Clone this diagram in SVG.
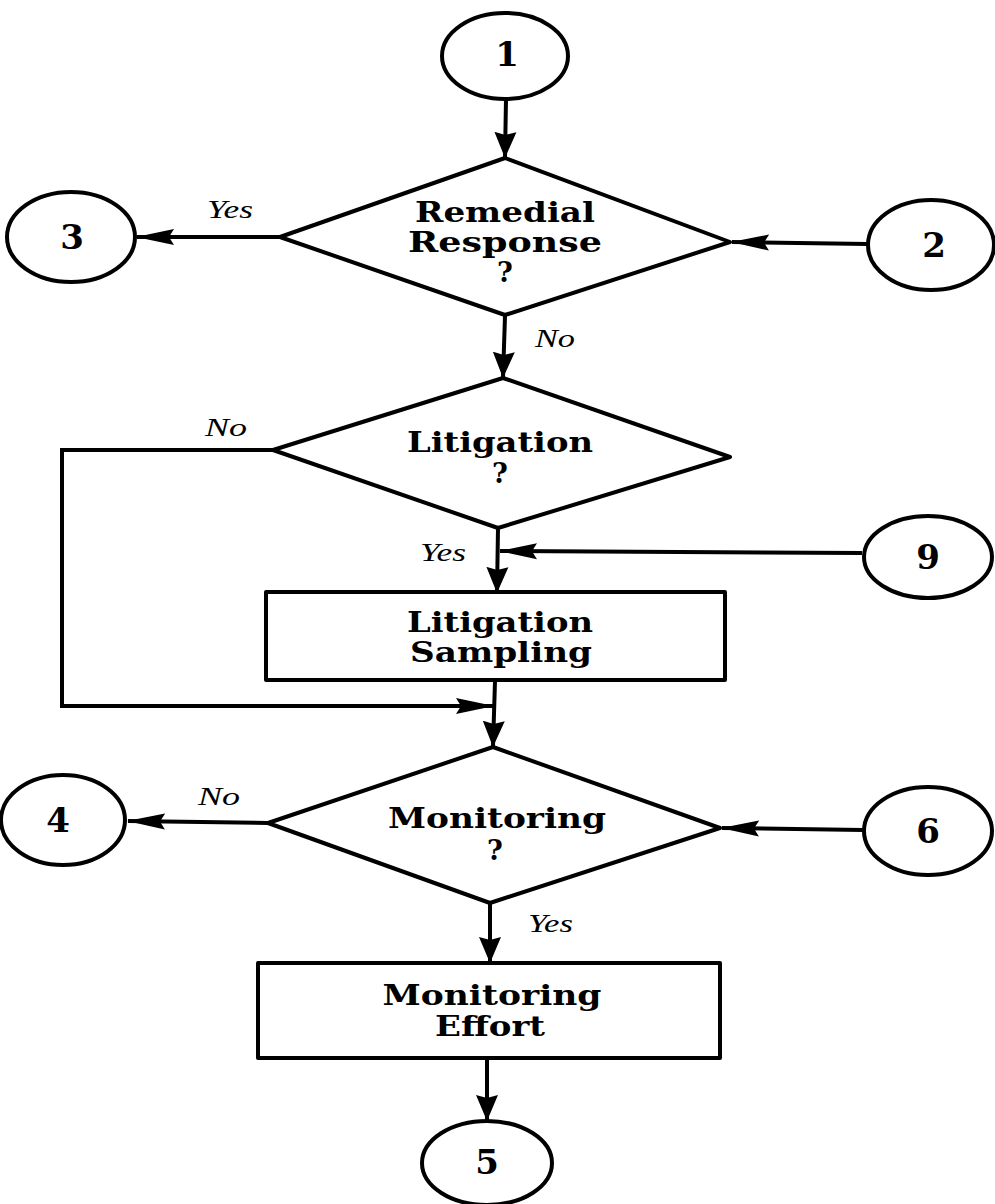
<svg xmlns="http://www.w3.org/2000/svg" width="995" height="1204" viewBox="0 0 995 1204">
  <style>
    .shape { fill: #fff; stroke: #000; stroke-width: 4; stroke-linejoin: round; }
    .edge { fill: none; stroke: #000; stroke-width: 4; }
    .lbl { font-family: "DejaVu Serif", "Liberation Serif", serif; font-weight: bold; font-size: 27px; fill: #000; text-anchor: middle; }
    .num { font-family: "DejaVu Serif", "Liberation Serif", serif; font-weight: bold; font-size: 34px; fill: #000; text-anchor: middle; }
    .ans { font-family: "Liberation Serif", serif; font-style: italic; font-size: 26px; fill: #000; }
  </style>
  <defs>
    <!-- long, slim head for horizontal runs -->
    <marker id="arrow-h" markerUnits="userSpaceOnUse" markerWidth="38" markerHeight="18" refX="37" refY="9" orient="auto">
      <path d="M0,1 L38,9 L0,17 L5,9 z" fill="#000"/>
    </marker>
    <!-- short, broad head for vertical runs -->
    <marker id="arrow-v" markerUnits="userSpaceOnUse" markerWidth="26" markerHeight="24" refX="25" refY="12" orient="auto">
      <path d="M0,1 L26,12 L0,23 L3,12 z" fill="#000"/>
    </marker>
  </defs>

  <!-- connectors -->
  <g id="connectors">
    <line class="edge" x1="506" y1="99" x2="505" y2="157" marker-end="url(#arrow-v)"/>
    <line class="edge" x1="280" y1="237" x2="137" y2="237" marker-end="url(#arrow-h)"/>
    <line class="edge" x1="868" y1="244" x2="732" y2="242" marker-end="url(#arrow-h)"/>
    <line class="edge" x1="505" y1="316" x2="503" y2="377" marker-end="url(#arrow-v)"/>
    <polyline class="edge" points="273,450 62,450 62,706 493,706" marker-end="url(#arrow-h)"/>
    <line class="edge" x1="498" y1="528" x2="497" y2="592" marker-end="url(#arrow-v)"/>
    <line class="edge" x1="862" y1="553" x2="500" y2="551" marker-end="url(#arrow-h)"/>
    <line class="edge" x1="495" y1="681" x2="493" y2="746" marker-end="url(#arrow-v)"/>
    <line class="edge" x1="268" y1="823" x2="128" y2="821" marker-end="url(#arrow-h)"/>
    <line class="edge" x1="863" y1="830" x2="722" y2="828" marker-end="url(#arrow-h)"/>
    <line class="edge" x1="490" y1="904" x2="490" y2="962" marker-end="url(#arrow-v)"/>
    <line class="edge" x1="487" y1="1059" x2="487" y2="1120" marker-end="url(#arrow-v)"/>
    <!-- branch answers -->
    <text class="ans" x="207" y="218" textLength="46" lengthAdjust="spacingAndGlyphs">Yes</text>
    <text class="ans" x="535" y="347" textLength="40" lengthAdjust="spacingAndGlyphs">No</text>
    <text class="ans" x="205" y="436" textLength="42" lengthAdjust="spacingAndGlyphs">No</text>
    <text class="ans" x="420" y="561" textLength="46" lengthAdjust="spacingAndGlyphs">Yes</text>
    <text class="ans" x="198" y="805" textLength="42" lengthAdjust="spacingAndGlyphs">No</text>
    <text class="ans" x="528" y="932" textLength="45" lengthAdjust="spacingAndGlyphs">Yes</text>
  </g>

  <!-- connector circles -->
  <g id="node-1">
    <ellipse class="shape" cx="505" cy="56" rx="63" ry="43"/>
    <text class="num" x="507" y="66">1</text>
  </g>
  <g id="node-2">
    <ellipse class="shape" cx="931" cy="245" rx="63" ry="45"/>
    <text class="num" x="934" y="257">2</text>
  </g>
  <g id="node-3">
    <ellipse class="shape" cx="71" cy="237" rx="64" ry="45"/>
    <text class="num" x="72" y="249">3</text>
  </g>
  <g id="node-4">
    <ellipse class="shape" cx="63" cy="820" rx="62" ry="45"/>
    <text class="num" x="58" y="832">4</text>
  </g>
  <g id="node-5">
    <ellipse class="shape" cx="487" cy="1163" rx="65" ry="42"/>
    <text class="num" x="487" y="1174">5</text>
  </g>
  <g id="node-6">
    <ellipse class="shape" cx="928" cy="831" rx="64" ry="44"/>
    <text class="num" x="928" y="843">6</text>
  </g>
  <g id="node-9">
    <ellipse class="shape" cx="928" cy="557" rx="64" ry="41"/>
    <text class="num" x="928" y="569">9</text>
  </g>

  <!-- decisions -->
  <g id="decision-remedial">
    <polygon class="shape" points="505,158 730,242 505,315 280,237"/>
    <text class="lbl" x="505" y="222" textLength="180" lengthAdjust="spacingAndGlyphs">Remedial</text>
    <text class="lbl" x="505" y="252" textLength="194" lengthAdjust="spacingAndGlyphs">Response</text>
    <text class="lbl" x="505" y="282">?</text>
  </g>
  <g id="decision-litigation">
    <polygon class="shape" points="503,378 730,457 498,528 273,450"/>
    <text class="lbl" x="500" y="452" textLength="186" lengthAdjust="spacingAndGlyphs">Litigation</text>
    <text class="lbl" x="500" y="483">?</text>
  </g>
  <g id="decision-monitoring">
    <polygon class="shape" points="493,747 720,828 490,903 268,823"/>
    <text class="lbl" x="497" y="828" textLength="218" lengthAdjust="spacingAndGlyphs">Monitoring</text>
    <text class="lbl" x="495" y="860">?</text>
  </g>

  <!-- processes -->
  <g id="process-litigation-sampling">
    <rect class="shape" x="266" y="592" width="459" height="88"/>
    <text class="lbl" x="500" y="632" textLength="186" lengthAdjust="spacingAndGlyphs">Litigation</text>
    <text class="lbl" x="501" y="662" textLength="182" lengthAdjust="spacingAndGlyphs">Sampling</text>
  </g>
  <g id="process-monitoring-effort">
    <rect class="shape" x="258" y="963" width="462" height="95"/>
    <text class="lbl" x="492" y="1005" textLength="219" lengthAdjust="spacingAndGlyphs">Monitoring</text>
    <text class="lbl" x="490" y="1036" textLength="110" lengthAdjust="spacingAndGlyphs">Effort</text>
  </g>
</svg>
